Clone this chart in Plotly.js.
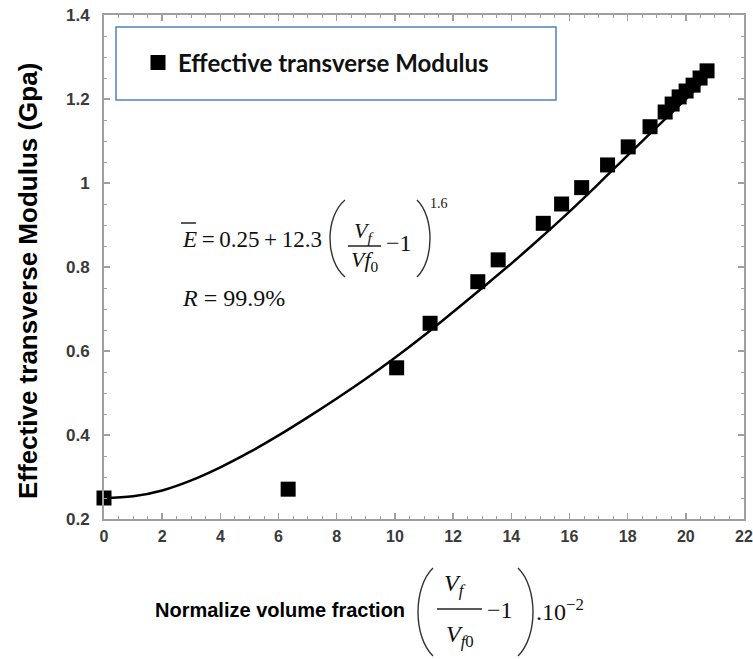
<!DOCTYPE html>
<html>
<head>
<meta charset="utf-8">
<script src="https://cdn.plot.ly/plotly-3.0.1.min.js"></script>
<style>html,body{margin:0;padding:0;background:#fff;}#chart{width:753px;height:659px;}</style>
</head>
<body>
<div id="chart"></div>
<script>
// Measured data points
const xData = [0, 6.33, 10.06, 11.21, 12.85, 13.55, 15.10, 15.73, 16.42, 17.31, 18.02, 18.77, 19.29, 19.53, 19.77, 20.01, 20.25, 20.49, 20.73];
const yData = [0.25, 0.271, 0.560, 0.666, 0.765, 0.817, 0.904, 0.950, 0.989, 1.043, 1.086, 1.134, 1.169, 1.188, 1.205, 1.219, 1.233, 1.250, 1.267];
// Fitted curve
const curveX = [0, 1, 2, 3, 4, 5, 6, 7, 8, 9, 10, 11, 12, 13, 14, 15, 16, 17, 18, 19, 20, 20.7];
const curveY = [0.25, 0.254, 0.268, 0.292, 0.323, 0.359, 0.399, 0.442, 0.487, 0.534, 0.584, 0.637, 0.693, 0.750, 0.808, 0.869, 0.932, 0.998, 1.066, 1.133, 1.2, 1.248];
const seriesName = 'Effective transverse Modulus';
const yTitle = 'Effective transverse Modulus (Gpa)';
const xTitle = 'Normalize volume fraction';

// plot area in pixels
const L = 104, R = 744, T = 15, B = 519;
const px = v => (v - L) / (R - L);
const py = v => (B - v) / (B - T);

function paren(xl, xr, yt, yb, open) {
  const h = yb - yt;
  let s, e, c;
  if (open) { s = xr; e = xr; c = (xl - 0.25 * xr) / 0.75; }
  else { s = xl; e = xl; c = (xr - 0.25 * xl) / 0.75; }
  return {
    type: 'path', xref: 'paper', yref: 'paper',
    path: `M ${px(s)},${py(yt)} C ${px(c)},${py(yt + h * 0.22)} ${px(c)},${py(yb - h * 0.22)} ${px(e)},${py(yb)}`,
    line: {color: '#333', width: 1.4}
  };
}
function hline(x0, x1, y, w) {
  return {type: 'line', xref: 'paper', yref: 'paper', x0: px(x0), x1: px(x1), y0: py(y), y1: py(y), line: {color: '#222', width: w || 1.3}};
}
function ann(text, x, y, opts) {
  return Object.assign({
    text: text, xref: 'paper', yref: 'paper', x: px(x), y: py(y),
    showarrow: false, xanchor: 'left', yanchor: 'middle',
    font: {family: 'Liberation Serif', size: 24, color: '#111'}
  }, opts || {});
}
const serif = s => ({family: 'Liberation Serif', size: s, color: '#111'});

const traces = [
  {x: curveX, y: curveY, mode: 'lines', line: {color: '#000', width: 2.5, shape: 'spline'}, showlegend: false, hoverinfo: 'skip'},
  {x: xData, y: yData, mode: 'markers', name: seriesName, marker: {symbol: 'square', size: 15, color: '#000'}, cliponaxis: false}
];

const axisCommon = {
  showline: true, linecolor: '#a0a0a0', linewidth: 2, mirror: 'allticks',
  ticks: 'inside', ticklen: 6, tickwidth: 1.5, tickcolor: '#a0a0a0',
  showgrid: false, zeroline: false
};

const layout = {
  width: 753, height: 659,
  margin: {l: L, r: 753 - R, t: T, b: 659 - B},
  paper_bgcolor: '#fff', plot_bgcolor: '#fff',
  xaxis: Object.assign({}, axisCommon, {range: [0, 22], dtick: 2, tick0: 0, ticklabelstandoff: 2,
    tickfont: {family: 'Liberation Sans', size: 16, weight: 'bold', color: '#3a3a3a'},
    minor: {dtick: 0.5, ticks: 'inside', ticklen: 3, tickcolor: '#a0a0a0', tickwidth: 1}}),
  yaxis: Object.assign({}, axisCommon, {range: [0.2, 1.4], dtick: 0.2, tick0: 0.2, ticklabelstandoff: 9,
    tickfont: {family: 'Liberation Sans', size: 17, weight: 'bold', color: '#3a3a3a'},
    minor: {dtick: 0.05, ticks: 'inside', ticklen: 3, tickcolor: '#a0a0a0', tickwidth: 1}}),
  showlegend: true,
  legend: {x: px(138), y: py(63), xanchor: 'left', yanchor: 'middle', bgcolor: 'rgba(0,0,0,0)', borderwidth: 0,
    font: {family: 'Lato', size: 24, weight: 'bold', color: '#111'}},
  shapes: [
    {type: 'rect', xref: 'paper', yref: 'paper', x0: px(116), x1: px(556), y0: py(27), y1: py(100), line: {color: '#4f81bd', width: 1.5}},
    hline(181, 196, 223, 1.5),
    paren(330, 345, 200, 277, true),
    hline(348, 381, 246),
    paren(417, 430, 200, 277, false),
    paren(418, 433, 568, 656, true),
    hline(437, 482, 609),
    paren(518, 533, 568, 656, false)
  ],
  annotations: [
    {text: yTitle, xref: 'paper', yref: 'paper', x: px(28), y: py(281), textangle: -90, showarrow: false,
      xanchor: 'center', yanchor: 'middle', font: {family: 'Liberation Sans', size: 26, weight: 'bold', color: '#000'}},
    {text: xTitle, xref: 'paper', yref: 'paper', x: px(153), y: py(610), showarrow: false,
      xanchor: 'left', yanchor: 'middle', font: {family: 'Liberation Sans', size: 20, weight: 'bold', color: '#000'}},
    ann('<i>E</i>\u2009=\u20090.25\u2009+\u200912.3', 180, 240, {font: serif(23)}),
    ann('<i>V<sub>f</sub></i>', 364, 232, {xanchor: 'center', font: serif(22)}),
    ann('<i>Vf</i><sub>0</sub>', 365, 261, {xanchor: 'center', font: serif(22)}),
    ann('\u22121', 384, 243),
    ann('1.6', 428, 203, {font: serif(14)}),
    ann('<i>R</i> = 99.9%', 180, 298),
    ann('<i>V<sub>f</sub></i>', 455, 585, {xanchor: 'center', font: serif(24)}),
    ann('<i>V</i><sub><i>f</i>0</sub>', 460, 636, {xanchor: 'center', font: serif(24)}),
    ann('\u22121', 485, 610),
    ann('.10<sup>\u22122</sup>', 534, 610, {font: serif(24)})
  ]
};

Plotly.newPlot('chart', traces, layout, {displayModeBar: false, staticPlot: true});
</script>
</body>
</html>
